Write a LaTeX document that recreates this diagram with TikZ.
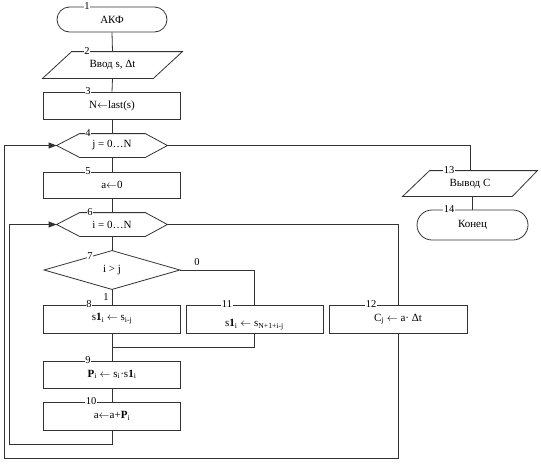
\documentclass[tikz,border=0pt]{standalone}
\usepackage{fontspec}
\setmainfont{Liberation Serif}
\usetikzlibrary{arrows.meta}
\newcommand{\larr}{\ensuremath{\leftarrow}}
\begin{document}
\begin{tikzpicture}[x=1pt,y=-1pt,line width=0.8pt,
  every node/.style={font=\fontsize{11}{13}\selectfont},
  procbox/.style={draw=black!80, minimum width=137pt, minimum height=27pt, inner sep=0pt},
  termbox/.style={draw=black!80, rounded corners=12.5pt, minimum width=110pt, minimum height=25pt, inner sep=0pt},
  invbox/.style={inner sep=0pt},
  outline/.style={draw=black!80},
  flow/.style={draw=black!80},
  arr/.style={draw=black!80,-{Triangle[length=8pt,width=6pt]}},
  numlab/.style={fill=white, inner sep=0.8pt, font=\fontsize{10.5}{12}\selectfont},
  plainlab/.style={inner sep=0pt, font=\fontsize{10.5}{12}\selectfont}]
\useasboundingbox (0,0) rectangle (541,464);

% blocks
\node[termbox] (b1) at (112,19.5) {АКФ};
\node[invbox, minimum width=139pt, minimum height=26pt] (b2) at (112.5,65) {Ввод s, Δt};
\draw[outline] ([xshift=29pt]b2.north west) -- (b2.north east) -- ([xshift=-29pt]b2.south east) -- (b2.south west) -- cycle;
\node[procbox] (b3) at (112,105.5) {N\larr last(s)};
\node[invbox, minimum width=110pt, minimum height=23pt] (b4) at (112,145.5) {j = 0…N};
\draw[outline] (b4.west) -- ([xshift=23pt]b4.north west) -- ([xshift=-22pt]b4.north east) -- (b4.east) -- ([xshift=-22pt]b4.south east) -- ([xshift=23pt]b4.south west) -- cycle;
\node[procbox, minimum height=26pt] (b5) at (112,185) {a\larr 0};
\node[invbox, minimum width=110pt, minimum height=23pt] (b6) at (112,224.5) {i = 0…N};
\draw[outline] (b6.west) -- ([xshift=23pt]b6.north west) -- ([xshift=-22pt]b6.north east) -- (b6.east) -- ([xshift=-22pt]b6.south east) -- ([xshift=23pt]b6.south west) -- cycle;
\node[invbox, minimum width=135pt, minimum height=38pt] (b7) at (112,270) {i > j};
\draw[outline] (b7.west) -- (b7.north) -- (b7.east) -- (b7.south) -- cycle;
\node[procbox, minimum height=28pt] (b8) at (112,319) {s\textbf{1}\textsubscript{i} \larr{} s\textsubscript{i-j}};
\node[procbox, minimum height=28pt] (b11) at (254.5,319) {};
\node[inner sep=0pt] (t11) at ([yshift=-6pt]b11.center) {s\textbf{1}\textsubscript{i} \larr{} s\textsubscript{N+1+i-j}};
\node[procbox, minimum width=138pt, minimum height=28pt] (b12) at (398,319) {C\textsubscript{j} \larr{} a· Δt};
\node[procbox] (b9) at (112,374.5) {\textbf{P}\textsubscript{i} \larr{} s\textsubscript{i}·s\textbf{1}\textsubscript{i}};
\node[procbox, minimum height=28pt] (b10) at (112,416) {a\larr a+\textbf{P}\textsubscript{i}};
\node[invbox, minimum width=134pt, minimum height=25pt] (b13) at (470,183.5) {Вывод С};
\draw[outline] ([xshift=27pt]b13.north west) -- (b13.north east) -- ([xshift=-25pt]b13.south east) -- (b13.south west) -- cycle;
\node[termbox, minimum width=111pt, minimum height=30pt, rounded corners=15pt] (b14) at (472.5,225) {Конец};

\coordinate (m) at (112,347);

% connectors
\draw[flow] (b1.south) -- (b2.north);
\draw[flow] (b2.south) -- (b3.north);
\draw[flow] (b3.south) -- (b4.north);
\draw[flow] (b4.south) -- (b5.north);
\draw[flow] (b5.south) -- (b6.north);
\draw[flow] (b6.south) -- (b7.north);
\draw[flow] (b7.south) -- (b8.north);
\draw[flow] (b7.east) -| (b11.north);
\draw[flow] (b8.south) -- (b9.north);
\draw[flow] (b11.south) |- (m);
\draw[flow] (b9.south) -- (b10.north);
\draw[arr] (b10.south) -- ++(0,14) -| ([xshift=-47pt]b6.west) -- (b6.west);
\draw[flow] (b6.east) -| (b12.north);
\draw[arr] (b12.south) |- (4,458) |- (b4.west);
\draw[flow] (b4.east) -| (b13.north);
\draw[flow] (b14.north |- b13.south) -- (b14.north);

% labels
\node[plainlab] (l0) at (197,262) {0};
\node[plainlab] (l1) at (106,297) {1};
\node[numlab] (n1) at (87,6) {1};
\node[numlab] (n2) at (87,51) {2};
\node[numlab] (n3) at (88,91) {3};
\node[numlab] (n4) at (88,133) {4};
\node[numlab] (n5) at (88,171) {5};
\node[numlab] (n6) at (90,212) {6};
\node[numlab] (n7) at (90,256) {7};
\node[numlab] (n8) at (89,304) {8};
\node[numlab] (n9) at (88,360) {9};
\node[numlab] (n10) at (91,401) {10};
\node[numlab] (n11) at (227,304) {11};
\node[numlab] (n12) at (371,304) {12};
\node[numlab] (n13) at (449,170) {13};
\node[numlab] (n14) at (449,209) {14};
\end{tikzpicture}
\end{document}
